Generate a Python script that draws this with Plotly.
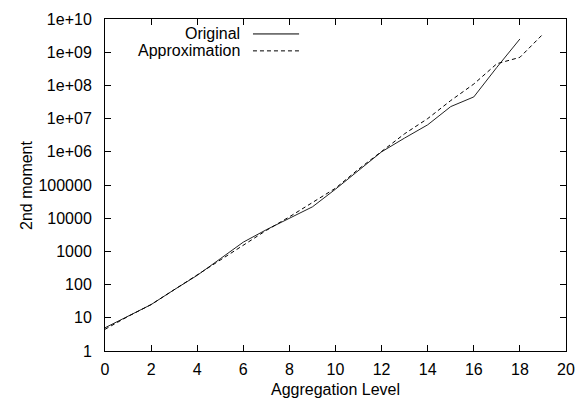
import plotly.graph_objects as go

# Aggregation levels
levels_original = list(range(0, 19))
levels_approx = list(range(0, 20))

# 2nd moment values
original = [5, 11, 25, 70, 190, 600, 1900, 4500, 10000, 22000, 75000,
            2.8e5, 1.0e6, 2.6e6, 6.5e6, 2.3e7, 4.5e7, 3.5e8, 2.5e9]
approximation = [4.5, 11, 25, 70, 190, 550, 1500, 4300, 11000, 30000, 80000,
                 3.0e5, 1.0e6, 3.5e6, 1.0e7, 3.5e7, 1.1e8, 4.5e8, 7.0e8, 3.5e9]

series_names = ["Original", "Approximation"]
x_title = "Aggregation Level"
y_title = "2nd moment"

y_tickvals = [1, 10, 100, 1000, 10000, 100000, 1e6, 1e7, 1e8, 1e9, 1e10]
y_ticktext = ["1", "10", "100", "1000", "10000", "100000",
              "1e+06", "1e+07", "1e+08", "1e+09", "1e+10"]
x_tickvals = list(range(0, 21, 2))

FONT = "Liberation Sans, Arial, Helvetica, sans-serif"
FS = 16

fig = go.Figure()
fig.add_trace(go.Scatter(x=levels_original, y=original, mode="lines",
                         name=series_names[0],
                         line=dict(color="#222222", width=1)))
fig.add_trace(go.Scatter(x=levels_approx, y=approximation, mode="lines",
                         name=series_names[1],
                         line=dict(color="#000000", width=1, dash="4px,3px")))

# gnuplot-style key: right-aligned text followed by a line sample
key_rows = [0.955, 0.904]
key_dash = ["solid", "4px,3px"]
for name, yk, dash in zip(series_names, key_rows, key_dash):
    fig.add_annotation(xref="paper", yref="paper", x=0.297, y=yk,
                       text=name, showarrow=False, xanchor="right",
                       yanchor="middle", font=dict(family=FONT, size=FS, color="black"))
    fig.add_shape(type="line", xref="paper", yref="paper",
                  x0=0.321, x1=0.421, y0=yk, y1=yk,
                  line=dict(color="black", width=1, dash=dash))

# axis titles
fig.add_annotation(xref="paper", yref="paper", x=0.5, y=-0.1145, text=x_title,
                   showarrow=False, xanchor="center", yanchor="middle",
                   font=dict(family=FONT, size=FS, color="black"))
fig.add_annotation(xref="paper", yref="paper", x=-0.1714, y=0.5, text=y_title,
                   textangle=-90, showarrow=False, xanchor="center", yanchor="middle",
                   font=dict(family=FONT, size=FS, color="black"))

axis_common = dict(showline=True, linecolor="black", linewidth=1, mirror="allticks",
                   ticks="inside", ticklen=6, tickwidth=1, tickcolor="black",
                   showgrid=False, zeroline=False, automargin=False,
                   tickfont=dict(family=FONT, size=FS, color="black"))

fig.update_xaxes(range=[0, 20], tickvals=x_tickvals, ticklabelstandoff=4,
                 **axis_common)
fig.update_yaxes(type="log", range=[0, 10], tickvals=y_tickvals, ticktext=y_ticktext,
                 ticklabelstandoff=9, **axis_common)

fig.update_layout(width=576, height=399, showlegend=False,
                  margin=dict(l=105, r=10, t=19, b=48),
                  plot_bgcolor="white", paper_bgcolor="white",
                  font=dict(family=FONT, size=FS, color="black"))

fig.write_html("out.html")
